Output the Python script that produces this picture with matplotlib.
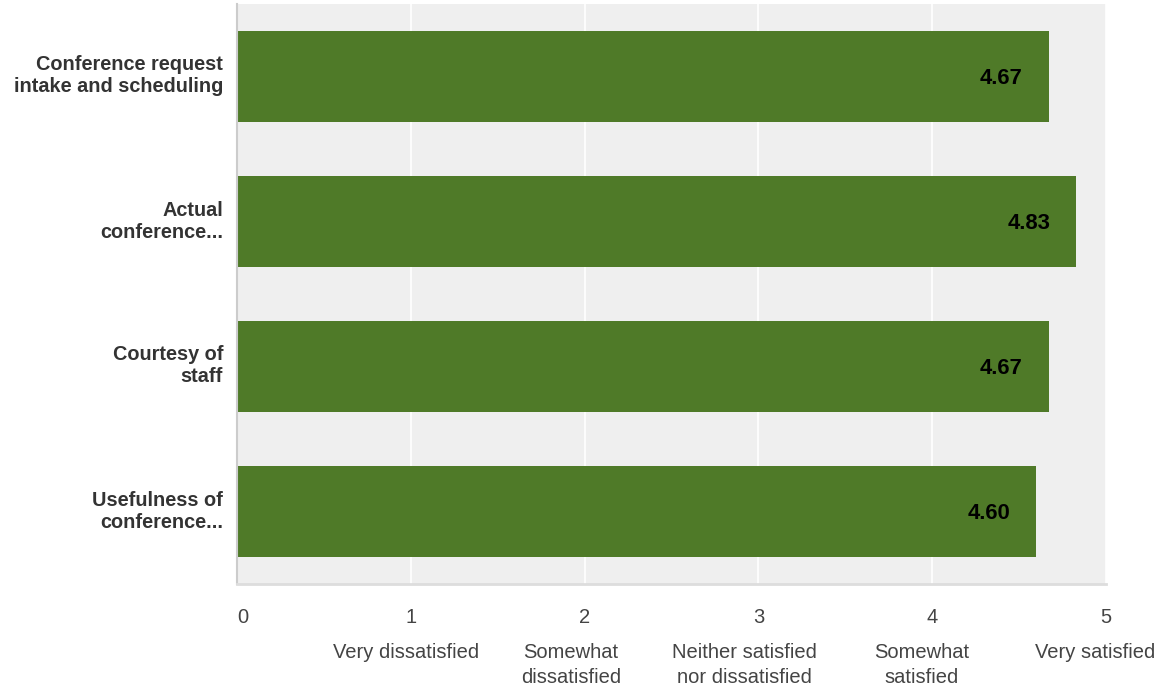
import matplotlib.pyplot as plt
import matplotlib.transforms as mtransforms

plt.rcParams['font.family'] = ['Liberation Sans', 'DejaVu Sans']

# data
categories = ['Conference request\nintake and scheduling', 'Actual\nconference...',
              'Courtesy of\nstaff', 'Usefulness of\nconference...']
scores = [4.67, 4.83, 4.67, 4.60]
ticks = [0, 1, 2, 3, 4, 5]
scale_labels = ['Very dissatisfied', 'Somewhat\ndissatisfied', 'Neither satisfied\nnor dissatisfied',
                'Somewhat\nsatisfied', 'Very satisfied']
scale_pos = [0.97, 1.92, 2.92, 3.94, 4.94]


def main():
    fig = plt.figure(figsize=(11.63, 6.87), dpi=100)
    ax = fig.add_axes([237 / 1163, 1 - 584 / 687, (1106 - 237) / 1163, 580 / 687])
    ax.set_facecolor('#efefef')

    y = list(range(len(categories)))
    ax.barh(y, scores, height=0.628, color='#4f7a28', zorder=2)
    for yi, v in zip(y, scores):
        ax.annotate(f'{v:.2f}', (v, yi), xytext=(-26, -2), textcoords='offset pixels',
                    ha='right', va='center', fontsize=15.8, fontweight='bold', color='black', zorder=3)

    ax.set_xlim(0, 5)
    ax.set_ylim(len(categories) - 0.5, -0.5)
    ax.set_xticks(ticks)
    ax.set_xticklabels([str(t) for t in ticks], fontsize=14.5, color='#444444')
    ax.tick_params(axis='x', length=0, pad=17)
    ax.get_xticklabels()[0].set_horizontalalignment('left')
    ax.set_yticks(y)
    ax.set_yticklabels(categories, fontsize=14.3, fontweight='bold', color='#333333', linespacing=1.2)
    ax.tick_params(axis='y', length=0, pad=10)
    # labels sit a little above bar centres
    shift = mtransforms.ScaledTranslation(0, 4 / 100, fig.dpi_scale_trans)
    for lab in ax.get_yticklabels():
        lab.set_transform(lab.get_transform() + shift)
    ax.xaxis.grid(True, color='white', lw=1.2, zorder=1)
    ax.set_axisbelow(True)

    for s in ['top', 'right']:
        ax.spines[s].set_visible(False)
    ax.spines['left'].set_color('#cccccc')
    ax.spines['left'].set_linewidth(1.5)
    ax.spines['bottom'].set_color('#dddddd')
    ax.spines['bottom'].set_linewidth(2)

    for p, lab in zip(scale_pos, scale_labels):
        ax.text(p, -0.102, lab, transform=ax.get_xaxis_transform(), ha='center', va='top',
                fontsize=14.5, color='#444444', linespacing=1.38)

    fig.savefig('out.png', dpi=100)


if __name__ == "__main__":
    main()
